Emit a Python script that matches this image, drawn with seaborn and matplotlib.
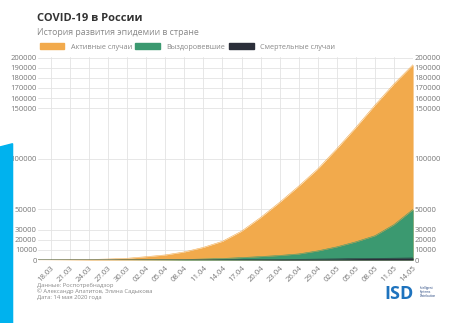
import pandas as pd
import matplotlib.pyplot as plt
import matplotlib.patches as mpatches
import seaborn as sns

# values (every 3 days)
dates = ['2020-03-16', '2020-03-18', '2020-03-21', '2020-03-24', '2020-03-27', '2020-03-30',
         '2020-04-02', '2020-04-05', '2020-04-08', '2020-04-11', '2020-04-14', '2020-04-17',
         '2020-04-20', '2020-04-23', '2020-04-26', '2020-04-29', '2020-05-02', '2020-05-05',
         '2020-05-08', '2020-05-11', '2020-05-14']
active = [80, 130, 280, 470, 1000, 1700, 3300, 5000, 8000, 12500, 18500, 28500,
          42000, 57000, 73000, 90000, 110000, 131000, 153000, 174000, 193000]
recovered = [0, 5, 10, 20, 50, 100, 200, 300, 500, 1000, 1500, 2400,
             3400, 4500, 6000, 9000, 13000, 18000, 24000, 35000, 50000]
deaths = [0, 0, 0, 1, 3, 10, 25, 40, 60, 100, 150, 250,
          350, 500, 700, 900, 1100, 1400, 1600, 1800, 2000]

y_ticks = [0, 10000, 20000, 30000, 50000, 100000, 150000, 160000, 170000, 180000, 190000, 200000]
series_names = ['Активные случаи', 'Выздоровевшие', 'Смертельные случаи']
colors = ['#F2AA4C', '#3B9970', '#2B2F3A']

df = pd.DataFrame({'date': pd.to_datetime(dates), 'active': active,
                   'recovered': recovered, 'deaths': deaths})
tick_dates = pd.date_range('2020-03-18', '2020-05-14', freq='3D')

sns.set_style('white')
plt.rcParams['font.family'] = ['Open Sans', 'DejaVu Sans']

fig = plt.figure(figsize=(4.49, 3.23), dpi=100)
ax = fig.add_axes([0.085, 0.195, 0.835, 0.63])

for col, c in zip(['active', 'recovered', 'deaths'], colors):
    sns.lineplot(data=df, x='date', y=col, ax=ax, color=c, linewidth=0.4)
    ax.fill_between(df['date'], 0, df[col], color=c, linewidth=0)

ax.set_xlim(df['date'].iloc[0], df['date'].iloc[-1])
ax.set_ylim(0, 201000)
ax.set_yticks(y_ticks)
ax.set_yticklabels([str(v) for v in y_ticks])
ax.set_xticks(tick_dates)
ax.set_xticklabels([d.strftime('%d.%m') for d in tick_dates], rotation=45, ha='right',
                   rotation_mode='anchor')
ax.tick_params(axis='y', labelsize=5.5, labelcolor='#777777', length=0, pad=1,
               labelright=True, labelleft=True)
ax.tick_params(axis='x', labelsize=5.6, labelcolor='#777777', length=0, pad=3)
ax.grid(True, color='#e3e3e3', linewidth=0.6)
ax.set_axisbelow(True)
ax.set_xlabel('')
ax.set_ylabel('')
for s in ax.spines.values():
    s.set_visible(False)

# title block
fig.text(0.083, 0.935, 'COVID-19 в России', fontsize=8, fontweight='bold', color='#333333')
fig.text(0.083, 0.893, 'История развития эпидемии в стране', fontsize=6.3, color='#888888')

handles = [mpatches.Patch(color=c, label=n) for c, n in zip(colors, series_names)]
leg = fig.legend(handles=handles, loc='center left', bbox_to_anchor=(0.088, 0.855), ncol=3,
                 frameon=False, fontsize=5.2, handlelength=3.4, handleheight=0.9,
                 columnspacing=0.5, handletextpad=0.9, borderaxespad=0, borderpad=0)
for t in leg.get_texts():
    t.set_color('#888888')

# footer
fig.text(0.083, 0.112, 'Данные: Роспотребнадзор', fontsize=4.2, color='#888888')
fig.text(0.083, 0.093, '© Александр Апатитов, Элина Садыкова', fontsize=4.2, color='#888888')
fig.text(0.083, 0.074, 'Дата: 14 мая 2020 года', fontsize=4.2, color='#888888')
fig.text(0.855, 0.075, 'ISD', fontsize=13, fontweight='bold', color='#1E73BE')
fig.text(0.935, 0.08, 'Intelligent\nSystems\nDistribution', fontsize=2.2, color='#1E3F7A',
         linespacing=1.1)

# cyan frame piece on the left edge of the screenshot
fig.patches.append(mpatches.Polygon([[0, 0], [0.028, 0], [0.028, 0.555], [0, 0.545]],
                                    closed=True, transform=fig.transFigure,
                                    color='#00B2EE', zorder=0))

fig.savefig('out.png', dpi=100)
